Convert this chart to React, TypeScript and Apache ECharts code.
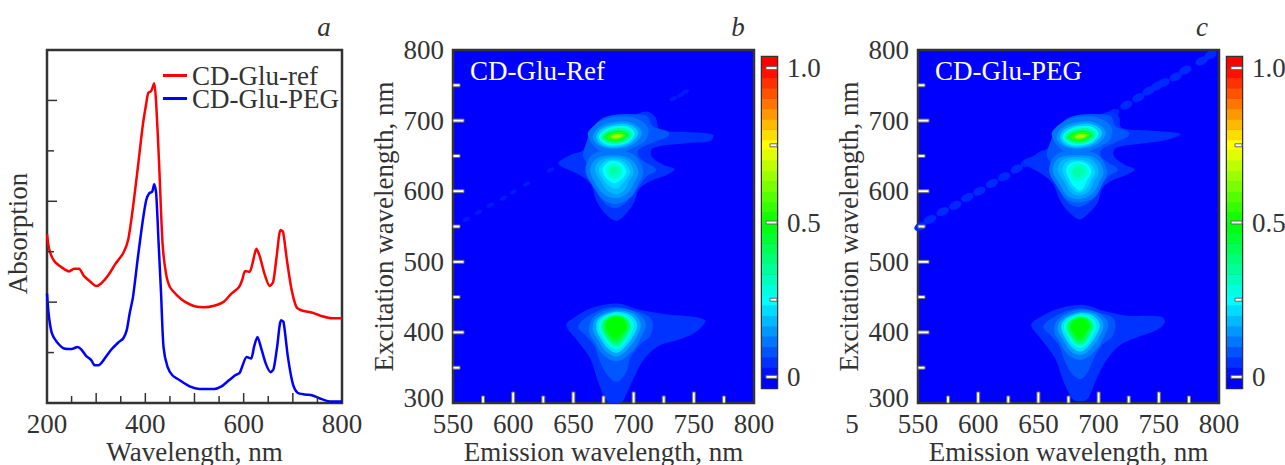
import React, { useEffect, useRef } from "react";
import * as echarts from "echarts";

const FONT = "Liberation Serif";
const INK = "#333333";

// Panel a: absorption spectra
const refWavelengths = [200,205,215,230,245,255,265,275,290,300,310,325,340,355,365,375,385,395,402,406,412,418,422,428,435,442,450,465,480,500,520,540,560,575,590,597,603,612,618,626,633,643,653,660,667,675,680,688,697,707,717,740,760,780,800];
const refAbsorption = [3.35,3.03,2.81,2.69,2.61,2.66,2.66,2.52,2.39,2.32,2.37,2.54,2.77,2.97,3.23,3.89,4.69,5.52,5.95,6.15,6.19,6.34,5.95,4.75,3.17,2.57,2.30,2.13,2.01,1.92,1.90,1.93,2.01,2.17,2.29,2.44,2.62,2.60,2.77,3.06,2.90,2.54,2.32,2.40,2.90,3.43,3.40,2.83,2.27,1.91,1.84,1.79,1.72,1.68,1.68];
const pegWavelengths = [200,204,210,220,235,250,262,270,280,290,297,305,315,330,345,355,362,368,375,385,395,402,408,414,418,422,427,432,437,445,455,470,490,510,540,555,570,583,592,598,606,615,621,628,635,645,655,661,668,676,681,690,700,710,725,740,755,775,800];
const pegAbsorption = [2.17,1.71,1.38,1.21,1.08,1.07,1.11,1.06,0.93,0.85,0.75,0.75,0.85,1.05,1.20,1.28,1.44,1.77,2.11,2.90,3.63,4.03,4.16,4.19,4.34,4.16,3.17,2.17,1.11,0.72,0.55,0.45,0.33,0.28,0.28,0.33,0.45,0.55,0.60,0.75,0.91,0.88,1.11,1.31,1.11,0.78,0.61,0.68,1.11,1.64,1.61,0.91,0.38,0.20,0.17,0.15,0.09,0.03,0.03];

// Tick positions
const absorptionMajorTicks = [2, 4, 6];
const absorptionMinorTicks = [1, 3, 5];
const wavelengthMajorTicks = [300, 400, 500, 600, 700];
const wavelengthMinorTicks = [250, 350, 450, 550, 650, 750];
const wavelengthLabels = [200, 400, 600, 800];
const emissionMajorTicks = [600, 650, 700, 750];
const emissionMinorTicks = [575, 625, 675, 725, 775];
const excitationMajorTicks = [400, 500, 600, 700];
const excitationMinorTicks = [350, 450, 550, 650, 750];
const colourbarMajor = [0, 0.5, 1];
const colourbarMinor = [0.25, 0.75];

type Contour = [number, number[]];
const refContours: Contour[] = [
  [0.05, [637.5,639,647,651,658,658,665,675,672,696,682,705,700,708,711,713,718,705,722,687,744,684,766,680,763.5,671,744,668,716,661,715,649,725,637,734,631,727.5,623,716,616,705,604,700,583,691.5,564,685,558,676,569,669,587,664,611,653,625]],
  [0.085, [658,651,661,670,664,684,672,701,683,708,700,709,711,706,716,692,729,684,728,677,716,669,704,658,705,647,719,630,711,621,704,606,697,590,686,576,676,583,668,604,664,628,661,640]],
  [0.115, [662,680,668,694,678,703,692,706,705,701,712,689,710,672,698,660,685,652,671,658]],
  [0.15, [666,676,671,690,684,698,698,697,707,684,701,668,686,660,672,664]],
  [0.2, [669,676,673,688,685,695,697,694,704,683,698,669,686,662,674,665]],
  [0.27, [671,676,675,686,685,692,696,691,701,682,696,670,686,665,676,667]],
  [0.35, [673,676,677,684,686,689,694,688,699,681,694,671,686,667,678,669]],
  [0.45, [675,676,679,683,686,686,692,685,696,680,692,673,686,670,680,671]],
  [0.55, [678,676,681,681,687,684,691,683,693,679,690,675,686,672,681,673]],
  [0.65, [681,677,684,680,688,681,691,680,690,677,687,675,683,675]],
  [0.115, [660,630,666,652,683,658,700,652,708,628,704,610,698,592,686,582,675,588,666,608]],
  [0.15, [664,630,669,646,683,651,697,646,704,628,700,611,695,597,686,590,676,595,669,609]],
  [0.18, [668,630,672,643,683,648,695,643,700,628,696,613,692,601,686,596,678,601,673,613]],
  [0.21, [671,630,675,641,683,645,692,641,697,628,693,615,689,607,685,603,680,607,675,616]],
  [0.25, [674,630,677,639,683,643,690,639,694,628,690,617,686,612,682,612,677,619]],
  [0.3, [677,629,680,637,684,639,688,636,691,628,688,620,684,617,680,620]],
  [0.34, [680,629,683,634,686,634,688,631,686,625,682,624]],
  [0.05, [644,410,650,420,664,434,686,441,705,432,725,426,759,418,752,401,736,389,722,382,709,363,700,335,693,309,690,301,679,301,671,328,664,363,653,389]],
  [0.085, [654,408,664,425,683,436,704,429,715,418,714,396,705,382,697,363,694,344,686,330,678,340,672,359,667,382,660,396]],
  [0.12, [663,403,667,422,683,434,701,429,710,413,705,389,697,370,686,359,675,368,668,385]],
  [0.16, [666,404,669,420,684,431,699,427,706,412,702,392,694,374,686,366,677,373,671,388]],
  [0.22, [669,405,671,419,684,429,697,425,703,411,699,393,692,378,686,371,679,377,673,390]],
  [0.28, [671,406,673,418,684,427,695,423,700,411,697,395,691,381,686,376,680,381,675,392]],
  [0.34, [673,406,675,417,684,425,693,421,698,410,695,396,690,384,685,380,681,384,677,393]],
  [0.4, [674,407,676,418,684,424,693,421,697,409,694,397,689,386,685,383,682,386,677,395]],
  [0.46, [676,408,678,418,685,423,692,420,695,409,692,398,688,390,685,387,682,390,678,398]],
  [0.5, [677,409,679,417,685,422,691,419,694,408,690,398,686,393,683,393,680,399]],
];
const pegContours: Contour[] = [
  [0.05, [638,641,648,652,657,660,665,675,671,696,681,705,699,708,711,713,717,705,719,690,742,686,768,681,755,672,738,668,714,661,713,649,722,637,730,631,723,623,712,616,703,604,699,583,690,566,684,560,676,569,668,587,662,611,652,625]],
  [0.085, [657,651,660,670,664,684,672,701,683,708,700,709,710,706,714,692,725,684,724,677,714,669,702,658,703,647,716,630,708,621,702,606,696,590,685,578,675,583,667,604,662,628,660,640]],
  [0.115, [661,680,667,694,677,703,691,706,704,701,711,689,709,672,697,660,684,652,670,658]],
  [0.15, [665,676,670,690,683,698,697,697,706,684,700,668,685,660,671,664]],
  [0.2, [668,676,672,688,684,695,696,694,703,683,697,669,685,662,673,665]],
  [0.27, [670,676,674,686,684,692,695,691,700,682,695,670,685,665,675,667]],
  [0.35, [672,676,676,684,685,689,693,688,698,681,693,671,685,667,677,669]],
  [0.45, [674,676,678,683,685,686,691,685,695,680,691,673,685,670,679,671]],
  [0.55, [677,676,680,681,686,684,690,683,692,679,689,675,685,672,680,673]],
  [0.65, [680,677,683,680,687,681,690,680,689,677,686,675,682,675]],
  [0.115, [659,630,665,652,682,658,699,652,707,628,703,610,697,592,685,584,674,588,665,608]],
  [0.15, [662,630,667,647,682,651,697,647,704,628,700,611,695,597,685,589,675,592,668,609]],
  [0.18, [666,630,670,644,682,648,695,644,700,628,696,613,692,600,685,594,677,598,672,612]],
  [0.21, [670,630,673,641,682,645,692,641,697,628,693,613,690,604,684,598,679,602,674,613]],
  [0.25, [673,630,676,639,682,642,690,639,694,628,690,614,688,606,684,601,680,606,676,616]],
  [0.29, [675,630,678,637,683,640,688,637,692,628,688,618,684,614,680,614,677,620]],
  [0.33, [678,629,681,635,684,636,687,634,689,628,686,622,682,620,679,623]],
];
const pegBand: Contour[] = [
  [0.05, [644,410,650,420,664,432,686,439,703,431,722,424,752,422,755,414,748,403,732,393,718,382,707,362,699,337,692,309,688,303,679,305,671,330,664,363,653,389]],
  [0.085, [654,408,664,423,683,434,702,427,713,418,712,396,703,382,696,363,691,344,685,334,678,341,672,359,667,382,660,396]],
  [0.12, [663,403,667,420,683,432,699,428,708,413,703,389,695,370,685,361,675,368,668,385]],
  [0.16, [666,404,669,418,684,429,697,426,704,412,700,392,692,374,685,368,677,373,671,388]],
  [0.22, [669,405,671,417,684,427,695,424,701,411,697,393,690,378,685,373,679,377,673,390]],
  [0.28, [671,406,673,416,684,425,693,422,698,411,695,395,689,381,685,378,680,381,675,392]],
  [0.34, [673,406,675,415,684,423,691,420,696,410,693,396,688,384,684,382,681,384,677,393]],
  [0.4, [674,407,676,416,684,422,691,420,695,409,692,397,688,386,684,384,682,386,677,395]],
  [0.46, [676,408,678,416,684,421,690,419,693,409,690,398,687,390,684,388,682,390,678,398]],
  [0.5, [677,408,679,415,684,420,689,418,692,408,688,398,685,393,683,393,680,399]],
];

// Diagonal (scattered excitation) spots [em, ex]
const refSpots = [[561,560],[571,570],[581,580],[592,590],[600,599],[611,610],[631,630],[654,650],[733,731],[739,736],[743,741]];
const pegSpots = [[552,550],[560,560],[570.5,571],[581,580],[591,591],[601,600],[611.5,611],[621.5,620.5],[632,631.5],[640.5,640.4],[652.5,651.2],[712,710],[723,722],[733,732.5],[741.5,742],[748.5,749],[754,753.7],[764,762],[772,771.6],[785.5,784.4],[793,793]];

const colourStops: [number, number[]][] = [
  [0, [0, 0, 255]],
  [0.25, [0, 255, 255]],
  [0.5, [0, 255, 0]],
  [0.75, [255, 255, 0]],
  [1, [255, 0, 0]],
];
const BAR_MIN = -0.036;
const BAR_MAX = 1.036;
const BAR_STEPS = 32;

function colourAt(level: number): string {
  const v = Math.min(1, Math.max(0, level));
  for (let i = 1; i < colourStops.length; i++) {
    const [v1, c1] = colourStops[i];
    const [v0, c0] = colourStops[i - 1];
    if (v <= v1) {
      const t = (v - v0) / (v1 - v0);
      const c = c0.map((x, k) => Math.round(x + (c1[k] - x) * t));
      return `rgb(${c[0]},${c[1]},${c[2]})`;
    }
  }
  return "rgb(255,0,0)";
}

const barEdges: [number, number][] = [];
for (let i = 0; i < BAR_STEPS; i++) {
  const w = (BAR_MAX - BAR_MIN) / BAR_STEPS;
  barEdges.push([BAR_MIN + i * w, BAR_MIN + (i + 1) * w]);
}

const zip = (xs: number[], ys: number[]) => xs.map((x, i) => [x, ys[i]]);

// Ticks drawn inward from a frame edge, placed through the axes' own scales
function tickSeries(
  xAxisIndex: number, yAxisIndex: number, side: "bottom" | "left" | "right",
  values: number[], edge: number, length: number, fill: string, stroke: string, thick: number,
) {
  return {
    type: "custom", xAxisIndex, yAxisIndex, clip: false, silent: true, z: 12,
    data: values.map((v) => (side === "bottom" ? [v, edge] : [edge, v])),
    encode: { x: 0, y: 1 },
    renderItem: (_: any, api: any) => {
      const p = api.coord([api.value(0), api.value(1)]);
      const shape =
        side === "bottom"
          ? { x: p[0] - thick / 2, y: p[1] - length, width: thick, height: length }
          : side === "left"
            ? { x: p[0], y: p[1] - thick / 2, width: length, height: thick }
            : { x: p[0] - length, y: p[1] - thick / 2, width: length, height: thick };
      return { type: "rect", shape, style: { fill, stroke, lineWidth: stroke === "none" ? 0 : 1 } };
    },
  };
}

const PANELS = [
  { left: 453, barLeft: 762, title: "Excitation wavelength, nm" },
  { left: 918, barLeft: 1227, title: "Excitation wavelength, nm" },
];
const TOP = 50;
const H = 353;
const W = 301;
const TICK_FILL = "#ffffff";
const TICK_EDGE = "#666666";

function buildOption() {
  const frame = { show: true, borderColor: INK, borderWidth: 2.5, outerBoundsMode: "none" };
  const grid: any[] = [{ left: 47, top: TOP, width: 295, height: H, backgroundColor: "#fff", ...frame }];
  const text = { color: INK, fontFamily: FONT, fontSize: 27 };
  const bare = { splitLine: { show: false }, axisLine: { show: false }, axisTick: { show: false } };
  const xAxis: any[] = [
    {
      type: "value", gridIndex: 0, min: 200, max: 800, interval: 100, position: "bottom", ...bare,
      axisLabel: { ...text, margin: 7, formatter: (v: number) => (wavelengthLabels.includes(v) ? String(v) : "") },
      name: "Wavelength, nm", nameLocation: "middle", nameGap: 35, nameMoveOverlap: false, nameTextStyle: { ...text },
    },
  ];
  const yAxis: any[] = [
    {
      type: "value", gridIndex: 0, min: 0, max: 7, position: "left", ...bare, axisLabel: { show: false },
      name: "Absorption", nameLocation: "middle", nameGap: 16, nameTextStyle: { ...text, padding: [0, 14, 0, 0] },
    },
  ];

  const series: any[] = [
    {
      type: "line", name: "CD-Glu-ref", xAxisIndex: 0, yAxisIndex: 0, data: zip(refWavelengths, refAbsorption),
      symbol: "none", smooth: 0.25, lineStyle: { color: "#ff0000", width: 2.5 }, itemStyle: { color: "#ff0000" },
    },
    {
      type: "line", name: "CD-Glu-PEG", xAxisIndex: 0, yAxisIndex: 0, data: zip(pegWavelengths, pegAbsorption),
      symbol: "none", smooth: 0.25, lineStyle: { color: "#0000ff", width: 2.5 }, itemStyle: { color: "#0000ff" },
    },
    tickSeries(0, 0, "bottom", wavelengthMajorTicks, 0, 10, INK, "none", 1.5),
    tickSeries(0, 0, "bottom", wavelengthMinorTicks, 0, 7, INK, "none", 1.5),
    tickSeries(0, 0, "left", absorptionMajorTicks, 200, 10, INK, "none", 1.5),
    tickSeries(0, 0, "left", absorptionMinorTicks, 200, 7, INK, "none", 1.5),
  ];

  const contourSets = [refContours, pegContours.concat(pegBand)];
  const spotSets = [refSpots, pegSpots];
  const spotLevels = [0.025, 0.04];

  PANELS.forEach((p, k) => {
    const g = grid.length;
    grid.push({ left: p.left, top: TOP, width: W, height: H, backgroundColor: "#0000ff", ...frame });
    const xIdx = xAxis.length;
    const yIdx = yAxis.length;
    xAxis.push({
      type: "value", gridIndex: g, min: 550, max: 800, interval: 50, position: "bottom", ...bare,
      axisLabel: { ...text, margin: 7 },
      name: "Emission wavelength, nm", nameLocation: "middle", nameGap: 35, nameMoveOverlap: false, nameTextStyle: { ...text },
    });
    yAxis.push({
      type: "value", gridIndex: g, min: 300, max: 800, interval: 100, position: "left", ...bare,
      axisLabel: {
        ...text, margin: 9,
        formatter: (v: number) => (v === 300 ? "{low|300}" : String(v)),
        rich: { low: { ...text, padding: [0, 0, 10, 0] } },
      },
      name: p.title, nameLocation: "middle", nameGap: 56, nameTextStyle: { ...text },
    });

    series.push({
      type: "scatter", xAxisIndex: xIdx, yAxisIndex: yIdx, data: spotSets[k], symbol: "circle",
      symbolSize: k === 0 ? [8, 4] : [13, 8], symbolRotate: 25, z: 2, silent: true,
      itemStyle: { color: colourAt(spotLevels[k]), opacity: 1 },
    });
    const contours = contourSets[k];
    series.push({
      type: "custom", xAxisIndex: xIdx, yAxisIndex: yIdx, clip: true, z: 3, silent: true,
      data: contours.map((c, i) => [c[1][0], c[1][1], i]),
      encode: { x: 0, y: 1 },
      renderItem: (_: any, api: any) => {
        const c = contours[api.value(2)];
        const points: number[][] = [];
        for (let i = 0; i < c[1].length; i += 2) points.push(api.coord([c[1][i], c[1][i + 1]]));
        return { type: "polygon", shape: { points, smooth: 0.35 }, style: { fill: colourAt(c[0]) } };
      },
    });
    series.push(
      tickSeries(xIdx, yIdx, "bottom", emissionMajorTicks, 300, 11, TICK_FILL, TICK_EDGE, 3),
      tickSeries(xIdx, yIdx, "bottom", emissionMinorTicks, 300, 7, TICK_FILL, TICK_EDGE, 3),
      tickSeries(xIdx, yIdx, "left", excitationMajorTicks, 550, 11, TICK_FILL, TICK_EDGE, 3),
      tickSeries(xIdx, yIdx, "left", excitationMinorTicks, 550, 7, TICK_FILL, TICK_EDGE, 3),
    );

    // Colour bar
    const b = grid.length;
    grid.push({ left: p.barLeft, top: 57, width: 15, height: 331, backgroundColor: "#0000ff", ...frame });
    const bx = xAxis.length;
    const by = yAxis.length;
    xAxis.push({ type: "value", gridIndex: b, min: 0, max: 1, show: false });
    yAxis.push({
      type: "value", gridIndex: b, min: BAR_MIN, max: BAR_MAX, position: "right", ...bare,
      axisLabel: { ...text, margin: 10, customValues: colourbarMajor, formatter: (v: number) => (v === 0 ? "0" : v.toFixed(1)) },
    });
    series.push({
      type: "custom", xAxisIndex: bx, yAxisIndex: by, silent: true, z: 3,
      data: barEdges.map((e) => [0, e[0], 1, e[1]]),
      encode: { x: 0, y: 1 },
      renderItem: (_: any, api: any) => {
        const a = api.coord([api.value(0), api.value(1)]);
        const z = api.coord([api.value(2), api.value(3)]);
        return {
          type: "rect",
          shape: { x: a[0], y: z[1], width: z[0] - a[0], height: a[1] - z[1] + 0.5 },
          style: { fill: colourAt((api.value(1) + api.value(3)) / 2) },
        };
      },
    });
    series.push(
      tickSeries(bx, by, "right", colourbarMajor, 1, 11, TICK_FILL, TICK_EDGE, 3),
      tickSeries(bx, by, "right", colourbarMinor, 1, 7, TICK_FILL, TICK_EDGE, 3),
    );
  });

  const label = (x: number, y: number, t: string, extra: any = {}) => ({
    type: "text", x, y, z: 20,
    style: { text: t, fontFamily: FONT, fontSize: 27, fill: INK, align: "center", verticalAlign: "middle", ...extra },
  });

  return {
    animation: false,
    backgroundColor: "#ffffff",
    grid,
    xAxis,
    yAxis,
    series,
    legend: {
      left: 163, top: 62, orient: "vertical", icon: "rect", itemWidth: 24, itemHeight: 3, itemGap: -4, selectedMode: false,
      padding: 0, data: ["CD-Glu-ref", "CD-Glu-PEG"],
      textStyle: { color: INK, fontFamily: FONT, fontSize: 27 },
    },
    graphic: [
      label(324, 27, "a", { fontStyle: "italic" }),
      label(738, 27, "b", { fontStyle: "italic" }),
      label(1202, 27, "c", { fontStyle: "italic" }),
      label(852, 424, "5"),
      label(470, 71, "CD-Glu-Ref", { fill: "#ffffff", align: "left" }),
      label(935, 71, "CD-Glu-PEG", { fill: "#ffffff", align: "left" }),
    ],
  };
}

export default function App() {
  const ref = useRef<HTMLDivElement>(null);
  useEffect(() => {
    if (!ref.current) return;
    const chart = echarts.init(ref.current, undefined, { renderer: "svg" });
    chart.setOption(buildOption() as any);
    return () => chart.dispose();
  }, []);
  return <div ref={ref} style={{ position: "fixed", left: 0, top: 0, width: 1285, height: 465, overflow: "hidden" }} />;
}
